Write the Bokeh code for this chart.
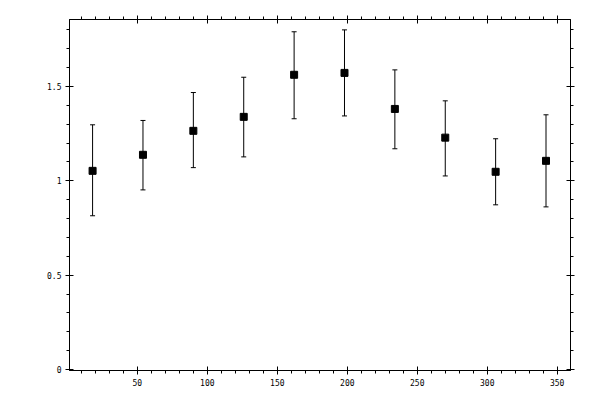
from bokeh.plotting import figure
from bokeh.models import (LinearAxis, FixedTicker, CustomJSTickFormatter, Whisker,
                          TeeHead, ColumnDataSource, Range1d)
from bokeh.embed import file_html
from bokeh.resources import INLINE

# data
x_vals = [18, 54, 90, 126, 162, 198, 234, 270, 306, 342]
y_vals = [1.053, 1.138, 1.265, 1.339, 1.562, 1.572, 1.381, 1.229, 1.048, 1.106]
y_upper = [1.297, 1.320, 1.468, 1.549, 1.790, 1.800, 1.588, 1.424, 1.223, 1.350]
y_lower = [0.815, 0.952, 1.070, 1.127, 1.329, 1.344, 1.170, 1.026, 0.873, 0.862]
x_ticks = [50, 100, 150, 200, 250, 300, 350]
x_minor = list(range(10, 360, 10))
y_ticks = [0, 0.5, 1, 1.5]
y_minor = [round(0.1 * i, 1) for i in range(0, 19)]

src = ColumnDataSource(dict(x=x_vals, y=y_vals, upper=y_upper, lower=y_lower))

p = figure(width=592, height=392, output_backend="svg", toolbar_location=None,
           x_range=Range1d(1.5, 359.5), y_range=Range1d(-0.005, 1.855),
           x_axis_location=None, y_axis_location=None,
           min_border_left=69, min_border_right=22, min_border_top=19, min_border_bottom=22)
p.xgrid.visible = False
p.ygrid.visible = False
p.outline_line_color = "black"
p.background_fill_color = "white"
p.border_fill_color = "white"

fmt = CustomJSTickFormatter(code="return tick.toString()")
blank = CustomJSTickFormatter(code="return ''")
font = "DejaVu Sans Mono"


def style(ax, labels):
    ax.axis_line_color = "black"
    ax.axis_line_width = 1
    ax.major_tick_line_color = "black"
    ax.minor_tick_line_color = "black"
    ax.major_tick_in = 4
    ax.major_tick_out = 4
    ax.minor_tick_in = 0
    ax.minor_tick_out = 3
    ax.major_label_text_font = font
    ax.major_label_text_color = "black"
    ax.major_label_text_font_size = "8px" if labels else "0px"
    ax.major_label_standoff = 4 if labels else 0


for loc, labels in (("below", True), ("above", False)):
    ax = LinearAxis(ticker=FixedTicker(ticks=x_ticks, minor_ticks=x_minor),
                    formatter=fmt if labels else blank)
    style(ax, labels)
    p.add_layout(ax, loc)

for loc, labels in (("left", True), ("right", False)):
    ax = LinearAxis(ticker=FixedTicker(ticks=y_ticks, minor_ticks=y_minor),
                    formatter=fmt if labels else blank)
    style(ax, labels)
    p.add_layout(ax, loc)

p.add_layout(Whisker(source=src, base="x", upper="upper", lower="lower",
                     line_color="black", line_width=1,
                     upper_head=TeeHead(size=5, line_color="black", line_width=1),
                     lower_head=TeeHead(size=5, line_color="black", line_width=1)))
p.scatter("x", "y", source=src, marker="square", size=7,
          fill_color="black", line_color="black")

open("out.html", "w").write(file_html(p, INLINE))
